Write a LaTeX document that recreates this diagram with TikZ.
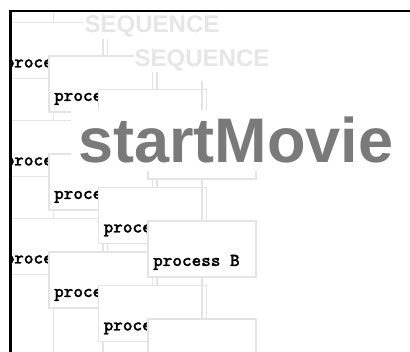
\documentclass[tikz,border=0pt]{standalone}
\usepackage{fontspec}
\setmainfont{Liberation Sans}
\newfontfamily\procfont[FakeBold=1.2]{lmmonolt10-bold.otf}
\usetikzlibrary{calc}
\definecolor{boxgray}{HTML}{E4E4E4}
\definecolor{seqgray}{HTML}{E6E6E6}
\definecolor{titlegray}{HTML}{7A7A7A}
\tikzset{
  procbox/.style={draw=boxgray, fill=white, line width=1.5pt, minimum width=108pt, minimum height=56pt, inner sep=0pt, anchor=north west},
  proclabel/.style={anchor=base west, inner sep=0pt, xshift=6pt, yshift=12pt, font=\procfont\fontsize{18.3}{18.3}\selectfont},
  conn/.style={draw=boxgray, line width=1.5pt},
  seqlabel/.style={anchor=base west, fill=white, inner sep=1pt, text=seqgray, font=\bfseries\fontsize{24}{24}\selectfont},
  titlelabel/.style={anchor=base west, fill=white, inner sep=7pt, text=titlegray, font=\bfseries\fontsize{63}{63}\selectfont},
  frameline/.style={line width=2.5pt, black}
}

\begin{document}
\begin{tikzpicture}[x=1pt, y=-1pt]
\useasboundingbox (0,0) rectangle (410,352);

\begin{scope}
\clip (10,11) rectangle (410,352);

% column 1
\node[procbox] (b11) at (-1.5,22) {};
\draw[conn] (b11.north) -- ++(0,-41);
\node[proclabel] (l11) at (b11.south west) {proce};
\node[procbox] (b12) at (-1.5,120) {};
\draw[conn] (b12.north) -- ++(0,-41);
\node[proclabel] (l12) at (b12.south west) {proce};
\node[procbox] (b13) at (-1.5,218) {};
\draw[conn] (b13.north) -- ++(0,-41);
\node[proclabel] (l13) at (b13.south west) {proce};

% column 2
\node[procbox] (b21) at (48,55.5) {};
\draw[conn] (b21.north) -- ++(0,-41);
\node[proclabel] (l21) at (b21.south west) {proce};
\node[procbox] (b22) at (48,153.5) {};
\draw[conn] (b22.north) -- ++(0,-41);
\node[proclabel] (l22) at (b22.south west) {proce};
\node[procbox] (b23) at (48,251.5) {};
\draw[conn] (b23.north) -- ++(0,-41);
\node[proclabel] (l23) at (b23.south west) {proce};
\draw[conn] (b13.south |- b23.south) -- ++(0,60);

% column 3
\node[procbox] (b31) at (97.5,89) {};
\draw[conn] (b31.north) -- ++(0,-41);
\node[procbox] (b32) at (97.5,187) {};
\draw[conn] (b32.north) -- ++(0,-41);
\node[proclabel] (l32) at (b32.south west) {proce};
\node[procbox] (b33) at (97.5,285) {};
\draw[conn] (b33.north) -- ++(0,-41);
\node[proclabel] (l33) at (b33.south west) {proce};
\draw[conn] (b23.south |- b33.south) -- ++(0,30);

% column 4
\node[procbox] (b41) at (147,122.5) {};
\draw[conn] (b41.north) -- ++(0,-41);
\node[procbox] (b42) at (147,220.5) {};
\draw[conn] (b42.north) -- ++(0,-41);
\node[proclabel] (l42) at (b42.south west) {process B};
\node[procbox] (b43) at (147,318.5) {};
\draw[conn] (b43.north) -- ++(0,-41);

% sequence headers and title
\node[seqlabel] (seq1) at (83.5,33) {SEQUENCE};
\node[seqlabel] (seq2) at (133.5,66.5) {SEQUENCE};
\node[titlelabel] (title) at (71,163) {startMovie};
\end{scope}

% window frame
\draw[frameline] (10.3,352) -- (10.3,11.2) -- (410,11.2);
\end{tikzpicture}
\end{document}
